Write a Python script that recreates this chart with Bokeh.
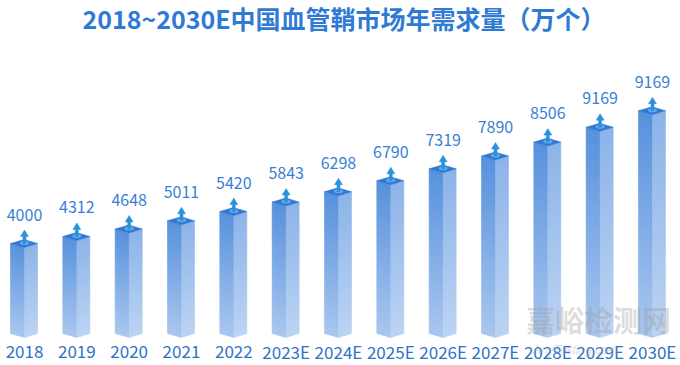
import numpy as np
from bokeh.plotting import figure
from bokeh.models import Range1d, Label, ColumnDataSource
from bokeh.embed import file_html
from bokeh.resources import INLINE
from bokeh.core.properties import value

categories = ["2018", "2019", "2020", "2021", "2022", "2023E", "2024E",
              "2025E", "2026E", "2027E", "2028E", "2029E", "2030E"]
values = [4000, 4312, 4648, 5011, 5420, 5843, 6298, 6790, 7319, 7890, 8506, 9169, 9900]
value_labels = ["4000", "4312", "4648", "5011", "5420", "5843", "6298",
                "6790", "7319", "7890", "8506", "9169", "9169"]
title_text = "2018~2030E中国血管鞘市场年需求量（万个）"
watermark_cn = "嘉峪检测网"
watermark_en = "AnyTesting.com"

# ---- layout / style ----
W, H = 680, 365
BASE_PX = 337                        # baseline, px from top of the canvas
PPU_Y = 0.0225                       # pixels per unit on y
FIRST_PX, STEP_PX = 24.0, 52.33      # first category centre and spacing (px)
x_start = -FIRST_PX / STEP_PX
x_end = x_start + W / STEP_PX
PPU_X = STEP_PX

def dx(px):
    return px / PPU_X

def dy(px):
    return px / PPU_Y

y_start, y_end = -dy(H - BASE_PX), dy(BASE_PX)

def mix(c1, c2, t):
    a = np.array([int(c1[i:i + 2], 16) for i in (1, 3, 5)], float)
    b = np.array([int(c2[i:i + 2], 16) for i in (1, 3, 5)], float)
    c = a + (b - a) * t
    return "#%02x%02x%02x" % tuple(int(round(v)) for v in c)

LEFT_TOP, LEFT_BOT = "#5690dc", "#a8c6ef"
RIGHT_TOP, RIGHT_BOT = "#8bb3e8", "#bbd3f3"
TOP_COL = "#2f79d4"
ARROW_COL = "#2a92da"

WL, WR, SL = dx(14), dx(13), dy(4)
N = 40

xs, ys, cols = [], [], []
top_xs, top_ys = [], []
arr_xs, arr_ys = [], []
cx_list = []
for i, v in enumerate(values):
    cx = float(i)
    cx_list.append(cx)
    for k in range(N):
        t0, t1 = k / N, (k + 1) / N
        y0, y1 = v * t0, v * t1
        tc = 1 - (t0 + t1) / 2
        xs.append([cx - WL, cx, cx, cx - WL])
        ys.append([y0 + SL, y0, y1, y1 + SL])
        cols.append(mix(LEFT_TOP, LEFT_BOT, tc))
        xs.append([cx, cx + WR, cx + WR, cx])
        ys.append([y0, y0 + SL, y1 + SL, y1])
        cols.append(mix(RIGHT_TOP, RIGHT_BOT, tc))
    top_xs.append([cx, cx - WL, cx - dx(0.5), cx + WR])
    top_ys.append([v, v + SL, v + 2 * SL, v + SL])
    arr_xs.append([cx - dx(1.5), cx - dx(1.5), cx - dx(4), cx, cx + dx(4), cx + dx(1.5), cx + dx(1.5)])
    arr_ys.append([v + dy(4), v + dy(11), v + dy(11), v + dy(17.5), v + dy(11), v + dy(11), v + dy(4)])

p = figure(width=W, height=H, output_backend="svg", toolbar_location=None,
           x_range=Range1d(x_start, x_end), y_range=Range1d(y_start, y_end),
           x_axis_location=None, y_axis_location=None,
           min_border=0, min_border_left=0, min_border_right=0,
           min_border_top=0, min_border_bottom=0)
p.outline_line_color = None
p.grid.visible = False
p.background_fill_color = "white"
p.border_fill_color = "white"

p.patches(xs="xs", ys="ys", fill_color="c", line_color="c", line_width=0.6,
          source=ColumnDataSource(dict(xs=xs, ys=ys, c=cols)))
p.patches(top_xs, top_ys, fill_color=TOP_COL, line_color=TOP_COL, line_width=0.5)
p.ellipse(x=cx_list, y=[v + dy(4.5) for v in values], width=dx(9), height=dy(4),
          fill_color="#6fb6ec", line_color=None, fill_alpha=0.8)
p.patches(arr_xs, arr_ys, fill_color=ARROW_COL, line_color=ARROW_COL, line_width=0.5)

# value labels
p.text(x=cx_list, y=values, text=value_labels, y_offset=-33,
       text_align="center", text_baseline="middle",
       text_font=value("Noto Sans CJK SC"), text_font_size="16px", text_color="#3a7fd5")

# category labels (x axis)
p.text(x=cx_list, y=[0] * len(categories), text=categories, y_offset=14,
       text_align="center", text_baseline="middle",
       text_font=value("Noto Sans CJK SC"), text_font_size="17px", text_color="#2e72c8")

p.add_layout(Label(x=x_start + dx(343.5), y=y_end - dy(17), text=title_text,
                   text_align="center", text_baseline="middle",
                   text_font="Noto Sans CJK SC", text_font_style="bold",
                   text_font_size="25px", text_color="#2f7bd4"))

p.add_layout(Label(x=x_start + dx(598), y=dy(19), text=watermark_cn,
                   text_align="center", text_baseline="middle",
                   text_font="Noto Sans CJK SC", text_font_style="bold",
                   text_font_size="29px", text_color="#9a9a9a", text_alpha=0.35))
p.add_layout(Label(x=x_start + dx(575), y=-dy(12), text=watermark_en,
                   text_align="center", text_baseline="middle",
                   text_font="Liberation Sans", text_font_style="italic",
                   text_font_size="12px", text_color="#9a9a9a", text_alpha=0.35))

open("out.html", "w").write(file_html(p, INLINE))
